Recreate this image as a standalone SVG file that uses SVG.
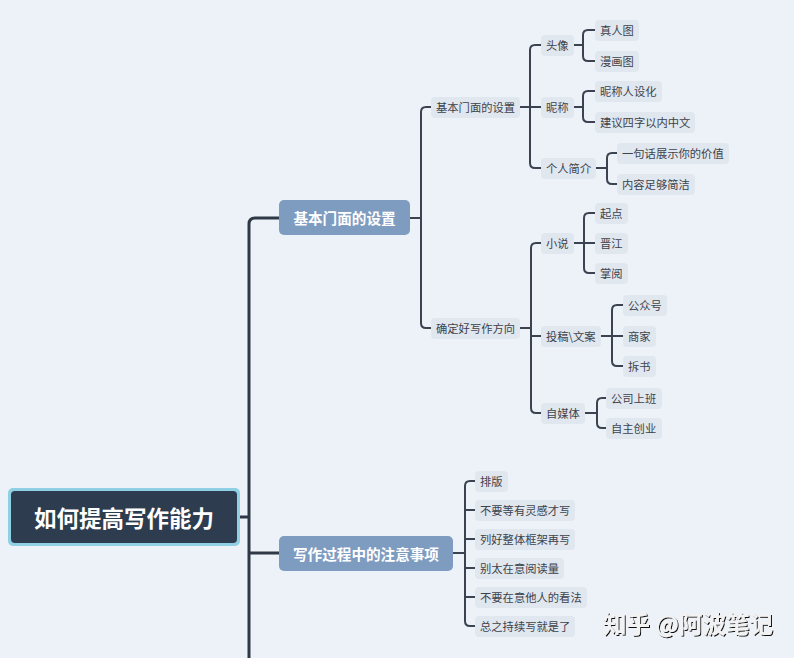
<svg xmlns="http://www.w3.org/2000/svg" width="794" height="658" viewBox="0 0 794 658">
<defs>
<style>
.bg{fill:#edf2f8}
.c{fill:none;stroke:#3b4350;stroke-width:2;stroke-linecap:round}
.trunk{fill:none;stroke:#2f3846;stroke-width:3}
.leaf{fill:#e1e7ef}
.t{font-family:"Noto Sans CJK SC","Noto Sans",sans-serif;font-size:11.3px;fill:#3d434c;dominant-baseline:central}
.l1{fill:#7e9bc0}
.t1{font-family:"Noto Sans CJK SC","Noto Sans",sans-serif;font-size:14.6px;font-weight:bold;fill:#ffffff;dominant-baseline:central;text-anchor:middle}
.wm{font-family:"Noto Sans CJK SC","Noto Sans",sans-serif;font-size:23.5px;font-weight:bold;fill:#f2f2f2;dominant-baseline:central}
</style>
<filter id="sh" x="-10%" y="-30%" width="120%" height="160%">
<feDropShadow dx="1" dy="1" stdDeviation="0.7" flood-color="#111" flood-opacity="1"/>
</filter>
</defs>
<rect class="bg" x="0" y="0" width="794" height="658"/>

<g id="connectors">
<path class="trunk" d="M240,517 H249"/>
<path class="trunk" d="M279,218 H255 Q249,218 249,224 V658"/>
<path class="trunk" d="M249,553 H279"/>
<path class="c" d="M410,218 H421"/>
<path class="c" d="M431,107 H426 Q421,107 421,112 V323 Q421,328 426,328 H431"/>
<path class="c" d="M520,107 H541"/>
<path class="c" d="M541,45 H535 Q530,45 530,50 V163 Q530,168 535,168 H541"/>
<path class="c" d="M574,45 H583"/>
<path class="c" d="M595,30 H588 Q583,30 583,35 V56 Q583,61 588,61 H595"/>
<path class="c" d="M574,107 H583"/>
<path class="c" d="M595,91 H588 Q583,91 583,96 V117 Q583,122 588,122 H595"/>
<path class="c" d="M596,168 H607"/>
<path class="c" d="M617,153 H612 Q607,153 607,158 V179 Q607,184 612,184 H617"/>
<path class="c" d="M520,328 H531"/>
<path class="c" d="M541,243 H536 Q531,243 531,248 V408 Q531,413 536,413 H541"/>
<path class="c" d="M531,336 H541"/>
<path class="c" d="M574,243 H595"/>
<path class="c" d="M595,213 H589 Q584,213 584,218 V268 Q584,273 589,273 H595"/>
<path class="c" d="M601,336 H623"/>
<path class="c" d="M623,305 H617 Q612,305 612,310 V361 Q612,366 617,366 H623"/>
<path class="c" d="M585,413 H597"/>
<path class="c" d="M606,398 H602 Q597,398 597,403 V423 Q597,428 602,428 H606"/>
<path class="c" d="M453,553 H465"/>
<path class="c" d="M475,481 H470 Q465,481 465,486 V621 Q465,626 470,626 H475"/>
<path class="c" d="M465,510 H475 M465,539 H475 M465,568 H475 M465,597 H475"/>
</g>

<g id="root">
<rect x="8" y="488" width="232" height="58" rx="5" fill="#8fd0e4"/>
<rect x="11" y="491" width="226" height="52" rx="4" fill="#2d3c4f"/>
<text x="124" y="517" font-family="'Noto Sans CJK SC','Noto Sans',sans-serif" font-size="22.5" font-weight="bold" fill="#ffffff" text-anchor="middle" dominant-baseline="central">如何提高写作能力</text>
</g>

<g id="n1"><rect class="l1" x="279" y="200" width="131" height="35" rx="5"/><text class="t1" x="344.5" y="217.5">基本门面的设置</text></g>
<g id="n2"><rect class="l1" x="279" y="536" width="174" height="35" rx="5"/><text class="t1" x="366" y="553.5">写作过程中的注意事项</text></g>

<g id="n1a"><rect class="leaf" x="431" y="97" width="89" height="21" rx="4"/><text class="t" x="436" y="107">基本门面的设置</text></g>
<g id="n1b"><rect class="leaf" x="431" y="318" width="89" height="21" rx="4"/><text class="t" x="436" y="328">确定好写作方向</text></g>

<g id="n1a1"><rect class="leaf" x="541" y="35" width="33" height="21" rx="4"/><text class="t" x="546" y="45">头像</text></g>
<g id="n1a2"><rect class="leaf" x="541" y="97" width="33" height="21" rx="4"/><text class="t" x="546" y="107">昵称</text></g>
<g id="n1a3"><rect class="leaf" x="541" y="158" width="55" height="21" rx="4"/><text class="t" x="546" y="168">个人简介</text></g>

<g id="n1a1a"><rect class="leaf" x="595" y="20" width="44" height="21" rx="4"/><text class="t" x="600" y="30">真人图</text></g>
<g id="n1a1b"><rect class="leaf" x="595" y="51" width="44" height="21" rx="4"/><text class="t" x="600" y="61">漫画图</text></g>
<g id="n1a2a"><rect class="leaf" x="595" y="81" width="67" height="21" rx="4"/><text class="t" x="600" y="91">昵称人设化</text></g>
<g id="n1a2b"><rect class="leaf" x="595" y="112" width="100" height="21" rx="4"/><text class="t" x="600" y="122">建议四字以内中文</text></g>
<g id="n1a3a"><rect class="leaf" x="617" y="143" width="112" height="21" rx="4"/><text class="t" x="622" y="153">一句话展示你的价值</text></g>
<g id="n1a3b"><rect class="leaf" x="617" y="174" width="78" height="21" rx="4"/><text class="t" x="622" y="184">内容足够简洁</text></g>

<g id="n1b1"><rect class="leaf" x="541" y="233" width="33" height="21" rx="4"/><text class="t" x="546" y="243">小说</text></g>
<g id="n1b2"><rect class="leaf" x="541" y="326" width="60" height="21" rx="4"/><text class="t" x="546" y="336">投稿\文案</text></g>
<g id="n1b3"><rect class="leaf" x="541" y="403" width="44" height="21" rx="4"/><text class="t" x="546" y="413">自媒体</text></g>

<g id="n1b1a"><rect class="leaf" x="595" y="203" width="33" height="21" rx="4"/><text class="t" x="600" y="213">起点</text></g>
<g id="n1b1b"><rect class="leaf" x="595" y="233" width="33" height="21" rx="4"/><text class="t" x="600" y="243">晋江</text></g>
<g id="n1b1c"><rect class="leaf" x="595" y="263" width="33" height="21" rx="4"/><text class="t" x="600" y="273">掌阅</text></g>
<g id="n1b2a"><rect class="leaf" x="623" y="295" width="44" height="21" rx="4"/><text class="t" x="628" y="305">公众号</text></g>
<g id="n1b2b"><rect class="leaf" x="623" y="326" width="33" height="21" rx="4"/><text class="t" x="628" y="336">商家</text></g>
<g id="n1b2c"><rect class="leaf" x="623" y="356" width="33" height="21" rx="4"/><text class="t" x="628" y="366">拆书</text></g>
<g id="n1b3a"><rect class="leaf" x="606" y="388" width="56" height="21" rx="4"/><text class="t" x="611" y="398">公司上班</text></g>
<g id="n1b3b"><rect class="leaf" x="606" y="418" width="56" height="21" rx="4"/><text class="t" x="611" y="428">自主创业</text></g>

<g id="n2a"><rect class="leaf" x="475" y="471" width="33" height="21" rx="4"/><text class="t" x="480" y="481">排版</text></g>
<g id="n2b"><rect class="leaf" x="475" y="500" width="100" height="21" rx="4"/><text class="t" x="480" y="510">不要等有灵感才写</text></g>
<g id="n2c"><rect class="leaf" x="475" y="529" width="100" height="21" rx="4"/><text class="t" x="480" y="539">列好整体框架再写</text></g>
<g id="n2d"><rect class="leaf" x="475" y="558" width="89" height="21" rx="4"/><text class="t" x="480" y="568">别太在意阅读量</text></g>
<g id="n2e"><rect class="leaf" x="475" y="587" width="112" height="21" rx="4"/><text class="t" x="480" y="597">不要在意他人的看法</text></g>
<g id="n2f"><rect class="leaf" x="475" y="616" width="100" height="21" rx="4"/><text class="t" x="480" y="626">总之持续写就是了</text></g>

<g id="watermark"><text class="wm" x="603" y="623" filter="url(#sh)">知乎 @阿波笔记</text></g>
</svg>
